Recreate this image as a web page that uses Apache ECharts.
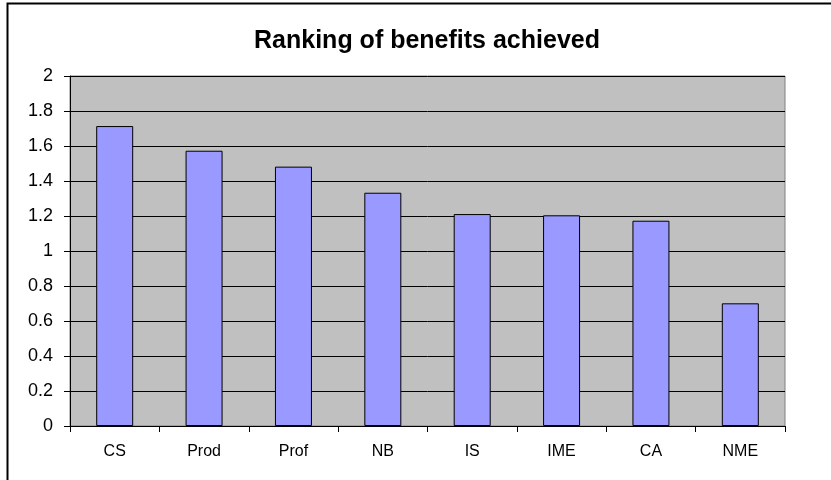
<!DOCTYPE html>
<html>
<head>
<meta charset="utf-8">
<script src="https://cdn.jsdelivr.net/npm/echarts@6/dist/echarts.min.js"></script>
<style>
html,body{margin:0;padding:0;background:#fff;}
#c{width:831px;height:480px;}
</style>
</head>
<body>
<div id="c"></div>
<script>
const categories = ['CS', 'Prod', 'Prof', 'NB', 'IS', 'IME', 'CA', 'NME'];
const values = [1.714, 1.573, 1.482, 1.333, 1.211, 1.204, 1.173, 0.701];
const titleText = 'Ranking of benefits achieved';

const chart = echarts.init(document.getElementById('c'), null, {renderer: 'canvas'});
chart.setOption({
  animation: false,
  backgroundColor: '#ffffff',
  title: {
    text: titleText,
    left: 422, top: 24, textAlign: 'center',
    textStyle: {fontFamily: 'Liberation Sans, Arial, sans-serif', fontWeight: 'bold', fontSize: 25, color: '#000'}
  },
  graphic: [{
    type: 'rect', z: -10,
    shape: {x: 7.5, y: 3.5, width: 900, height: 600},
    style: {fill: 'none', stroke: '#000', lineWidth: 2}
  }],
  grid: {left: 70, right: 46, top: 76, bottom: 54, show: true, backgroundColor: '#c0c0c0', borderColor: '#808080', borderWidth: 1},
  xAxis: {
    type: 'category', data: categories,
    axisLine: {lineStyle: {color: '#000', width: 1}},
    axisTick: {show: true, length: 6, inside: false, alignWithLabel: false, lineStyle: {color: '#000'}},
    axisLabel: {margin: 18, fontFamily: 'Liberation Sans, Arial, sans-serif', fontSize: 16, color: '#000'},
    splitLine: {show: false}
  },
  yAxis: {
    type: 'value', min: 0, max: 2, interval: 0.2,
    axisLine: {show: true, lineStyle: {color: '#000', width: 1}},
    axisTick: {show: true, length: 6, lineStyle: {color: '#000'}},
    axisLabel: {margin: 17, fontFamily: 'Liberation Sans, Arial, sans-serif', fontSize: 18, color: '#000',
      formatter: v => String(Math.round(v * 10) / 10)},
    splitLine: {show: true, lineStyle: {color: '#000', width: 1}}
  },
  series: [{
    type: 'bar', data: values, barWidth: 37,
    itemStyle: {color: '#9999ff', borderColor: '#000', borderWidth: 1}
  }]
});
</script>
</body>
</html>
